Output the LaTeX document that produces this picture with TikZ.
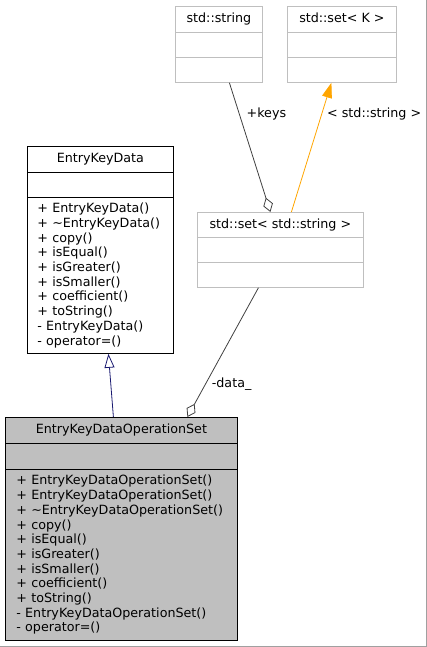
\documentclass[tikz,border=0pt]{standalone}
\usepackage{fontspec}
\setmainfont{DejaVu Sans}
\usetikzlibrary{arrows.meta}

\definecolor{boxgray}{HTML}{BFBFBF}
\definecolor{edgegray}{HTML}{404040}
\definecolor{navyblue}{HTML}{191970}
\definecolor{tplorange}{HTML}{FFA500}
\definecolor{framegray}{HTML}{A0A0A0}

\begin{document}
\begin{tikzpicture}[x=1pt,y=-1pt,line width=.8pt,
    font=\fontsize{12.7}{14.7}\selectfont,
    title/.style={text height=9.4pt,text depth=3pt}]

      \useasboundingbox (0,0) rectangle (427,647);
      \draw[framegray] (426.5,0) -- (426.5,646.5) -- (0,646.5);

      \begin{scope}[every node/.style={draw=boxgray,anchor=north west,inner sep=0pt}]
        \node[title,minimum width=87pt,minimum height=26pt]  (1a) at (175,6)   {std::string};
        \node[minimum width=87pt,minimum height=25pt]        (1b) at (175,32)  {};
        \node[minimum width=87pt,minimum height=25pt]        (1c) at (175,57)  {};
        \node[title,minimum width=109pt,minimum height=26pt] (2a) at (287,6)   {std::set< K >};
        \node[minimum width=109pt,minimum height=25pt]       (2b) at (287,32)  {};
        \node[minimum width=109pt,minimum height=25pt]       (2c) at (287,57)  {};
        \node[title,minimum width=166pt,minimum height=25pt] (3a) at (197,212) {std::set< std::string >};
        \node[minimum width=166pt,minimum height=25pt]       (3b) at (197,237) {};
        \node[minimum width=166pt,minimum height=25pt]       (3c) at (197,262) {};
      \end{scope}

      \begin{scope}[every node/.style={draw=black,anchor=north west,inner sep=0pt}]
        \node[title,minimum width=146pt,minimum height=26pt] (4a) at (27,146) {EntryKeyData};
        \node[minimum width=146pt,minimum height=25pt]       (4b) at (27,172) {};
        \node[inner xsep=10pt,text width=126pt,align=left,minimum height=156pt] (4c) at (27,197)
          {+ EntryKeyData()\\+ \textasciitilde EntryKeyData()\\+ copy()\\+ isEqual()\\+ isGreater()\\
           + isSmaller()\\+ coefficient()\\+ toString()\\- EntryKeyData()\\- operator=()};
      \end{scope}

      \begin{scope}[every node/.style={draw=black,fill=boxgray,anchor=north west,inner sep=0pt}]
        \node[title,minimum width=232pt,minimum height=26pt] (5a) at (5,417) {EntryKeyDataOperationSet};
        \node[minimum width=232pt,minimum height=26pt]       (5b) at (5,443) {};
        \node[inner xsep=11pt,text width=210pt,align=left,minimum height=171pt] (5c) at (5,469)
          {+ EntryKeyDataOperationSet()\\+ EntryKeyDataOperationSet()\\+ \textasciitilde EntryKeyDataOperationSet()\\
           + copy()\\+ isEqual()\\+ isGreater()\\+ isSmaller()\\+ coefficient()\\+ toString()\\
           - EntryKeyDataOperationSet()\\- operator=()};
      \end{scope}

      \begin{scope}[every node/.style={inner sep=0pt,anchor=west,text=black}]

        \begin{scope}[every edge/.style={draw,line width=.8pt}]
          \path ([xshift=-8pt]5a.north)   edge[navyblue,-{Triangle[open,length=14pt,width=10pt]}] ([xshift=8pt]4c.south);
          \path ([xshift=66pt]5a.north)   edge[edgegray,{Diamond[open,length=15pt,width=10pt]}-]
                node[pos=.254,xshift=6pt] {-data\_} ([xshift=-22pt]3c.south);
          \path ([xshift=-10pt]3a.north)  edge[edgegray,{Diamond[open,length=15pt,width=10pt]}-]
                node[pos=.76,xshift=7pt] {+keys} ([xshift=10.5pt]1c.south);
          \path ([xshift=11pt]3a.north)   edge[tplorange,-{Triangle[length=15pt,width=10pt]}]
                node[pos=.76,xshift=5pt] {< std::string >} ([xshift=-10.5pt]2c.south);
        \end{scope}
      \end{scope}

    \end{tikzpicture}
\end{document}
